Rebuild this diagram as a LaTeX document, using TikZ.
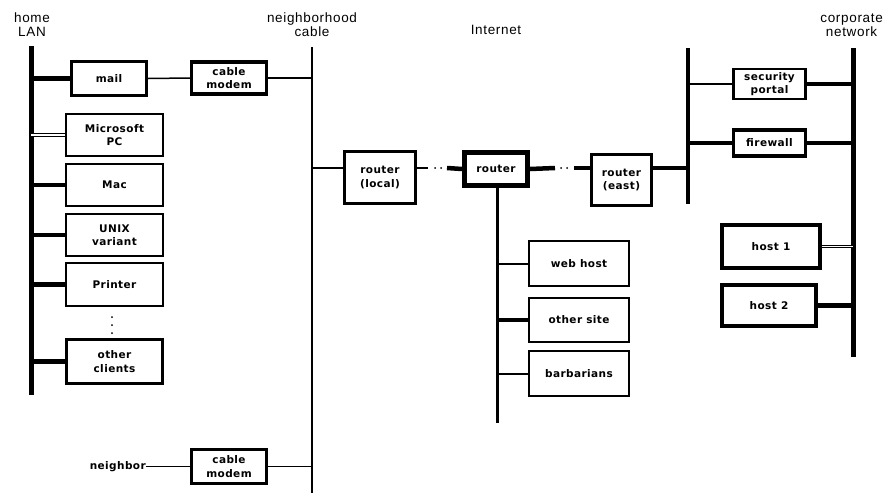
\documentclass[tikz,border=0pt]{standalone}
\usepackage{fontspec}
\setmainfont{Liberation Sans}
\newfontfamily\boxfont[LetterSpace=4]{DejaVu Sans}
\newfontfamily\labfont[LetterSpace=5]{Liberation Sans}
\begin{document}
\begin{tikzpicture}[x=1pt,y=-1pt,
  box/.style={draw, line width=1.8pt, fill=white, inner sep=0pt, align=center,
    font={\boxfont\bfseries\fontsize{10.5}{13.5}\selectfont}},
  midbox/.style={box, line width=2.5pt},
  heavybox/.style={box, line width=3.3pt},
  routerbox/.style={box, line width=5pt},
  lab/.style={align=center, inner sep=0pt, font={\labfont\fontsize{13.5}{14}\selectfont}},
  thinw/.style={line width=1.5pt},
  wire/.style={line width=4.5pt},
  dbl/.style={line width=0.9pt, double, double distance=1.8pt},
  busthick/.style={line width=5pt},
  busthin/.style={line width=2pt},
  dotc/.style={fill, circle, inner sep=0pt, minimum size=2pt}
]
\useasboundingbox (0,0) rectangle (883,493);

% ---- labels
\node[lab] (homelab) at (32,25) {home\\LAN};
\node[lab] (cablelab) at (312,25) {neighborhood\\cable};
\node[lab] (inetlab) at (496,30) {Internet};
\node[lab, anchor=east] (corplab) at (883,25) {corporate\\network};

% ---- buses
\coordinate (homeT) at (31,46);
\coordinate (homeB) at (31,395);
\coordinate (cabT) at (312,47);
\coordinate (cabB) at (312,493);
\coordinate (clT) at (688,48);
\coordinate (clB) at (688,204);
\coordinate (crT) at (853,48);
\coordinate (crB) at (853,357);
\draw[busthick] (homeT) -- (homeB);
\draw[busthin] (cabT) -- (cabB);
\draw[line width=4pt] (clT) -- (clB);
\draw[busthick] (crT) -- (crB);

% ---- home LAN boxes
\node[heavybox, minimum width=75pt, minimum height=34pt] (mail) at (109,78.5) {mail};
\node[heavybox, minimum width=75pt, minimum height=32pt] (cm1) at (229,78) {cable\\modem};
\node[box, minimum width=97pt, minimum height=42pt] (pc) at (114.5,135) {Microsoft\\PC};
\node[box, minimum width=97pt, minimum height=42pt] (mac) at (114.5,185) {Mac};
\node[box, minimum width=97pt, minimum height=42pt] (unix) at (114.5,235) {UNIX\\variant};
\node[box, minimum width=97pt, minimum height=43pt] (printer) at (114.5,284.5) {Printer};
\node[heavybox, minimum width=96pt, minimum height=44pt] (other) at (114.5,361.5) {other\\clients};
\node[dotc] (v1) at (112,317) {};
\node[dotc] (v2) at (112,325) {};
\node[dotc] (v3) at (112,333) {};

\draw[wire] (mail.west) -- (mail.west -| homeT);
\draw[thinw] (mail.east) -- (cm1.west);
\draw[thinw] (cm1.east) -- (cm1.east -| cabT);
\draw[dbl] (pc.west) -- (pc.west -| homeT);
\draw[wire] (mac.west) -- (mac.west -| homeT);
\draw[wire] (unix.west) -- (unix.west -| homeT);
\draw[wire] (printer.west) -- (printer.west -| homeT);
\draw[wire] (other.west) -- (other.west -| homeT);

% ---- neighbor
\node[heavybox, minimum width=75pt, minimum height=34pt] (cm2) at (229,466.5) {cable\\modem};
\node[inner sep=0pt, anchor=east, font={\boxfont\bfseries\fontsize{10.5}{13.5}\selectfont}] (nb) at (146,466.5) {neighbor};
\draw[thinw] (nb.east) -- (cm2.west);
\draw[thinw] (cm2.east) -- (cm2.east -| cabT);

% ---- routers
\node[heavybox, minimum width=71pt, minimum height=52pt] (rl) at (380,177.5) {router\\(local)};
\node[routerbox, minimum width=63pt, minimum height=33pt] (rt) at (496,169) {router};
\node[midbox, minimum width=60pt, minimum height=51pt] (re) at (621.5,180) {router\\(east)};

\draw[thinw] ([yshift=9.5pt]rl.west) -- ([yshift=9.5pt]rl.west -| cabT);
\coordinate (a1) at (428,168);
\coordinate (a2) at (447,168);
\node[dotc] (ad1) at (435,168) {};
\node[dotc] (ad2) at (441,168) {};
\draw[thinw] ([yshift=9.5pt]rl.east) -- (a1);
\draw[wire] (a2) -- (rt.west);
\coordinate (b1) at (555,168);
\coordinate (b2) at (574,168);
\node[dotc] (bd1) at (561,168) {};
\node[dotc] (bd2) at (567,168) {};
\draw[wire] (rt.east) -- (b1);
\draw[wire] (b2) -- ([yshift=12pt]re.west);
\draw[wire] ([yshift=12pt]re.east) -- ([yshift=12pt]re.east -| clT);

% ---- Internet hosts
\coordinate (inB) at (497,423);
\draw[line width=3pt] (rt.south -| inB) -- (inB);
\node[midbox, minimum width=100pt, minimum height=45pt] (web) at (579,263.5) {web host};
\node[midbox, minimum width=100pt, minimum height=44pt] (osite) at (579,320) {other site};
\node[midbox, minimum width=100pt, minimum height=45pt] (barb) at (579,373.5) {barbarians};
\draw[line width=2pt] (web.west) -- (web.west -| inB);
\draw[wire] (osite.west) -- (osite.west -| inB);
\draw[line width=2pt] (barb.west) -- (barb.west -| inB);

% ---- corporate
\node[midbox, minimum width=72pt, minimum height=30pt] (sec) at (769.5,84) {security\\portal};
\node[heavybox, minimum width=72pt, minimum height=26pt] (fw) at (769.5,143) {firewall};
\node[heavybox, minimum width=98pt, minimum height=43pt] (h1) at (771,246.5) {host 1};
\node[heavybox, minimum width=94pt, minimum height=41pt] (h2) at (769,305.5) {host 2};
\draw[thinw] (sec.west) -- (sec.west -| clT);
\draw[wire] (sec.east) -- (sec.east -| crT);
\draw[wire] (fw.west) -- (fw.west -| clT);
\draw[wire] (fw.east) -- (fw.east -| crT);
\draw[dbl] (h1.east) -- (h1.east -| crT);
\draw[wire] (h2.east) -- (h2.east -| crT);
\end{tikzpicture}
\end{document}
